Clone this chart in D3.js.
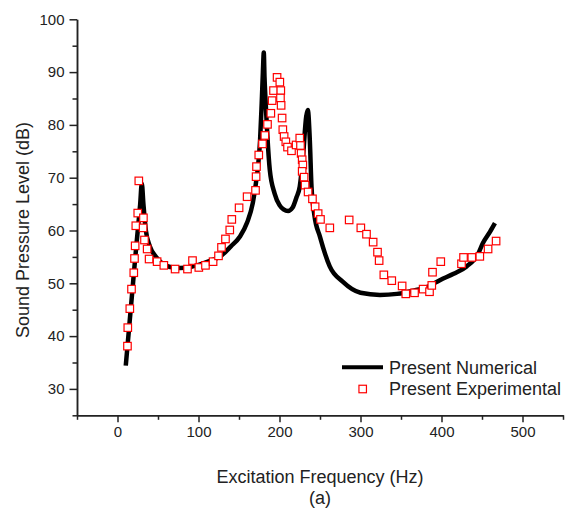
<!DOCTYPE html>
<html lang="en">
<head>
<meta charset="UTF-8">
<title>Sound pressure level</title>
<script src="https://cdn.jsdelivr.net/npm/d3@7"></script>
<style>
  body { margin: 0; background: #fff; }
  text { font-family: "Liberation Sans", Arial, sans-serif; fill: #222; }
</style>
</head>
<body>
<div id="chart"></div>
<script>
    var width = 565, height = 509;

    // Numerical curve (frequency Hz, SPL dB)
    var numFreq = [10.2, 14, 18, 22, 25, 28, 30, 32, 35, 40, 47.5, 55, 65, 77, 90, 100, 115, 126, 140, 151, 160, 167,
                   170, 174, 176, 178, 179.5, 180.6, 181.5, 183, 185, 188, 194, 200, 205, 210.6, 216, 221, 225, 229, 233,
                   235, 237.4, 239.5, 243, 250, 262, 278, 300, 324, 345, 365, 385, 398, 415, 431, 445, 451, 460, 466];
    var numDb   = [34.4, 41, 48, 55, 60, 65, 68.9, 65, 60, 57, 55, 53.8, 53.1, 52.9, 53.1, 53.5, 54.3, 55, 57, 58.8, 61.5, 65.2,
                   68, 73, 77, 84, 90, 93.7, 89, 84, 78, 71.5, 67, 64.8, 64, 63.7, 64.3, 66.3, 68.3, 74, 81.6,
                   82.8, 77.2, 68.3, 63, 58.8, 53.2, 50.3, 48.2, 47.8, 48, 48.6, 49.5, 50.6, 51.8, 53.2, 55.5, 57.6, 59.8, 61.4];

    // Experimental points
    var expFreq = [12.3, 12.7, 15.2, 17.3, 20.1, 21.0, 21.8, 22.6, 25.0, 26.3, 31.6, 32.0, 33.3, 36.6, 39.0, 48.9, 57.2,
                   71.1, 86.4, 92.6, 100.4, 108.6, 118.0, 124.7, 128.4, 133.3, 138.6, 141.1, 150.1, 160.0, 170.4, 171.1,
                   171.6, 174.4, 179.0, 181.9, 185.2, 189.3, 190.9, 192.6, 197.0, 200.4, 201.6, 201.2, 202.0, 203.2,
                   204.1, 205.7, 207.8, 209.9, 214.8, 220.5, 225.0, 225.9, 226.7, 228.0, 228.8, 228.0, 230.4, 231.6,
                   235.3, 240.7, 244.0, 247.7, 250.6, 262.1, 286.0, 300.4, 307.4, 315.6, 321.0, 323.0, 328.8, 338.6,
                   351.4, 355.9, 366.7, 377.3, 385.2, 388.0, 388.9, 399.1, 424.7, 427.2, 437.4, 447.3, 457.5, 467.4];
    var expDb   = [38.1, 41.6, 45.2, 48.9, 52.0, 54.7, 57.1, 60.9, 63.3, 69.4, 60.5, 62.4, 58.2, 56.5, 54.6, 54.1, 53.4,
                   52.7, 52.7, 54.3, 53.0, 53.4, 54.1, 55.2, 56.8, 58.4, 60.1, 62.1, 64.3, 66.4, 67.6, 70.2,
                   72.1, 74.3, 76.4, 78.0, 80.1, 82.2, 84.6, 86.5, 89.0, 88.1, 86.5, 85.1, 83.7, 81.3,
                   79.1, 77.8, 76.8, 75.8, 75.1, 76.2, 77.5, 76.1, 74.6, 73.4, 72.4, 71.2, 70.1, 68.6,
                   67.3, 66.0, 64.5, 63.2, 62.1, 60.5, 62.0, 60.5, 59.3, 57.8, 55.9, 54.3, 51.6, 50.5,
                   49.5, 48.0, 48.2, 48.9, 48.4, 49.6, 52.1, 54.1, 53.7, 54.9, 54.9, 55.1, 56.5, 58.0];

    var xTicks = [0, 100, 200, 300, 400, 500];
    var xMinor = [-50, 50, 150, 250, 350, 450, 550];
    var yTicks = [30, 40, 50, 60, 70, 80, 90, 100];
    var yMinor = [25, 35, 45, 55, 65, 75, 85, 95];
    var seriesNames = ["Present Numerical", "Present Experimental"];

    var x = d3.scaleLinear().domain([-50, 550]).range([77, 563]);
    var y = d3.scaleLinear().domain([25, 100]).range([415.3, 19.3]);

    var svg = d3.select("#chart").append("svg")
        .attr("width", width).attr("height", height);

    // axes
    svg.append("g").attr("transform", "translate(0," + y(25) + ")")
        .call(d3.axisBottom(x).tickValues(xTicks).tickSize(7).tickPadding(4).tickSizeOuter(0));
    svg.append("g").attr("transform", "translate(0," + y(25) + ")")
        .call(d3.axisBottom(x).tickValues(xMinor).tickSize(4.5).tickFormat("").tickSizeOuter(0));
    svg.append("g").attr("transform", "translate(" + x(-50) + ",0)")
        .call(d3.axisLeft(y).tickValues(yTicks).tickSize(7.5).tickPadding(5).tickSizeOuter(0));
    svg.append("g").attr("transform", "translate(" + x(-50) + ",0)")
        .call(d3.axisLeft(y).tickValues(yMinor).tickSize(4.5).tickFormat("").tickSizeOuter(0));
    svg.selectAll(".domain, .tick line").attr("stroke", "#222").attr("stroke-width", 1.5);
    svg.selectAll(".tick text").style("font-size", "15px").style("font-family", "Liberation Sans, Arial, sans-serif").attr("fill", "#222");

    // titles
    svg.append("text").attr("x", 320).attr("y", 483).attr("text-anchor", "middle")
        .style("font-size", "18px").text("Excitation Frequency (Hz)");
    svg.append("text").attr("x", 320).attr("y", 504).attr("text-anchor", "middle")
        .style("font-size", "18px").text("(a)");
    svg.append("text").attr("transform", "translate(29,230) rotate(-90)").attr("text-anchor", "middle")
        .style("font-size", "18px").text("Sound Pressure Level (dB)");

    // numerical curve
    var numData = numFreq.map(function(f, i) { return [f, numDb[i]]; });
    var line = d3.line().x(function(d) { return x(d[0]); }).y(function(d) { return y(d[1]); })
        .curve(d3.curveMonotoneX);
    svg.append("path").datum(numData).attr("d", line)
        .attr("fill", "none").attr("stroke", "#000").attr("stroke-width", 4.5).attr("stroke-linejoin", "round");

    // experimental squares
    var s = 7.5;
    svg.selectAll(".exp").data(expFreq).enter().append("rect")
        .attr("class", "exp")
        .attr("x", function(d) { return x(d) - s / 2; })
        .attr("y", function(d, i) { return y(expDb[i]) - s / 2; })
        .attr("width", s).attr("height", s)
        .attr("fill", "#fff").attr("stroke", "#f00").attr("stroke-width", 1.2);

    // legend
    svg.append("line").attr("x1", 342).attr("x2", 383).attr("y1", 367.3).attr("y2", 367.3)
        .attr("stroke", "#000").attr("stroke-width", 4);
    svg.append("rect").attr("x", 362.7 - s / 2).attr("y", 389 - s / 2).attr("width", s).attr("height", s)
        .attr("fill", "#fff").attr("stroke", "#f00").attr("stroke-width", 1.2);
    svg.append("text").attr("x", 389).attr("y", 374).style("font-size", "18px").text(seriesNames[0]);
    svg.append("text").attr("x", 389).attr("y", 395).style("font-size", "18px").text(seriesNames[1]);
</script>
</body>
</html>
